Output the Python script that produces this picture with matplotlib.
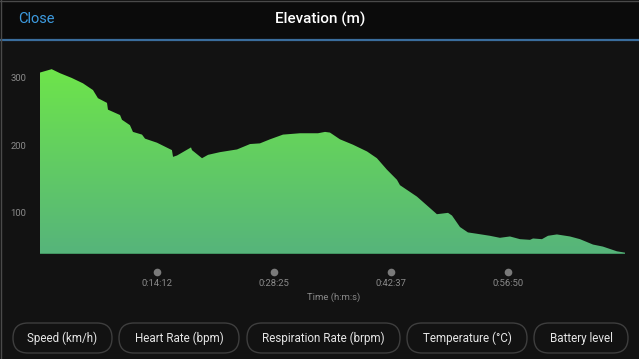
import numpy as np
import matplotlib
matplotlib.use("Agg")
import matplotlib.pyplot as plt
from matplotlib.colors import LinearSegmentedColormap
from matplotlib.patches import FancyBboxPatch

# ------------------------------------------------------------
# Data (time in seconds, elevation in m)
# ------------------------------------------------------------
time_s = [0, 85, 146, 231, 313, 386, 422, 488, 495, 583, 597, 655, 677, 743,
          765, 852, 961, 969, 998, 1100, 1107, 1180, 1224, 1311, 1435, 1530,
          1602, 1675, 1770, 1894, 2025, 2076, 2112, 2185, 2280, 2382, 2454,
          2527, 2600, 2622, 2746, 2891, 2972, 3001, 3059, 3117, 3183, 3277,
          3350, 3423, 3496, 3569, 3591, 3656, 3700, 3765, 3860, 3933, 4028,
          4100, 4202, 4261]
elevation_m = [308, 313, 307, 300, 292, 282, 270, 263, 253, 245, 238, 230, 220,
               216, 210, 204, 193, 183, 185, 197, 193, 181, 186, 190, 194, 202,
               203, 209, 216, 218, 218, 220, 219, 209, 201, 191, 181, 164, 149,
               141, 124, 98, 100, 96, 79, 71, 69, 66, 63, 65, 61, 60, 62, 61,
               66, 68, 65, 61, 53, 50, 43, 41]

tick_times = [852, 1705, 2557, 3410]
tick_labels = ["0:14:12", "0:28:25", "0:42:37", "0:56:50"]
y_ticks = [100, 200, 300]
buttons = ["Speed (km/h)", "Heart Rate (bpm)", "Respiration Rate (brpm)",
           "Temperature (°C)", "Battery level"]

BG = "#121212"
TOPBAR = "#0b0b0b"
GREY = "#8a8a8a"
W, H = 639, 359
Y_MIN, Y_MAX = 39, 334

fig = plt.figure(figsize=(W / 100, H / 100), dpi=100, facecolor=BG)

# overlay axes in pixel coordinates for the app chrome
ui = fig.add_axes([0, 0, 1, 1])
ui.set_xlim(0, W)
ui.set_ylim(H, 0)
ui.axis("off")
ui.add_patch(plt.Rectangle((0, 0), W, 39, color=TOPBAR, zorder=0))
ui.plot([0, W], [39.5, 39.5], color="#3a6d9c", lw=1.6)
ui.plot([0.5, 0.5], [0, H], color="#4a4a4a", lw=1)
ui.plot([0, W], [0.5, 0.5], color="#4a4a4a", lw=1)
ui.text(18, 19, "Close", color="#3d9be0", fontsize=10.5, va="center",
        family="Roboto")
ui.text(320, 19, "Elevation (m)", color="white", fontsize=11, va="center",
        ha="center", family="Roboto", fontweight="medium")

# x-axis tick dots and labels
x0, x1 = 40, 625
t_end = time_s[-1]
for t, lab in zip(tick_times, tick_labels):
    px = x0 + (x1 - x0) * t / t_end
    ui.plot(px, 272, "o", color="#7a7a7a", ms=5.5, mec="none")
    ui.text(px, 284, lab, color=GREY, fontsize=6.8, ha="center", va="center",
            family="Roboto")
ui.text(334, 297, "Time (h:m:s)", color=GREY, fontsize=6.8, ha="center",
        va="center", family="Roboto")

# pill buttons
pill_x = [(13, 112), (119, 239), (247, 400), (407, 527), (534, 628)]
for (a, b), lab in zip(pill_x, buttons):
    ui.add_patch(FancyBboxPatch((a, 323), b - a, 30,
                                boxstyle="round,pad=0,rounding_size=15",
                                fc=BG, ec="#3e3e3e", lw=1))
    ui.text((a + b) / 2, 338.5, lab, color="#e6e6e6", fontsize=8.4,
            ha="center", va="center", family="Roboto")

# elevation chart
ax = fig.add_axes([x0 / W, (H - 254) / H, (x1 - x0) / W, (254 - 55) / H])
ax.set_facecolor("none")
ax.set_xlim(0, t_end)
ax.set_ylim(Y_MIN, Y_MAX)
for s in ax.spines.values():
    s.set_visible(False)
ax.set_xticks([])
ax.set_yticks(y_ticks)
ax.tick_params(axis="y", length=0, pad=10, labelsize=6.8, labelcolor=GREY)
for lbl in ax.get_yticklabels():
    lbl.set_family("Roboto")

poly = ax.fill_between(time_s, elevation_m, Y_MIN, color="none", lw=0)
cmap = LinearSegmentedColormap.from_list("elev", ["#56b47b", "#6ee54a"])
grad = np.linspace(0, 1, 256).reshape(-1, 1)
img = ax.imshow(grad, cmap=cmap, origin="lower", aspect="auto",
                extent=[0, t_end, Y_MIN, 315], zorder=1)
img.set_clip_path(poly.get_paths()[0], transform=ax.transData)
ax.plot([0, t_end], [Y_MIN + 0.6, Y_MIN + 0.6], color="#3f8d5c", lw=1.2,
        zorder=2)

fig.savefig("out.png", dpi=100, facecolor=BG)
